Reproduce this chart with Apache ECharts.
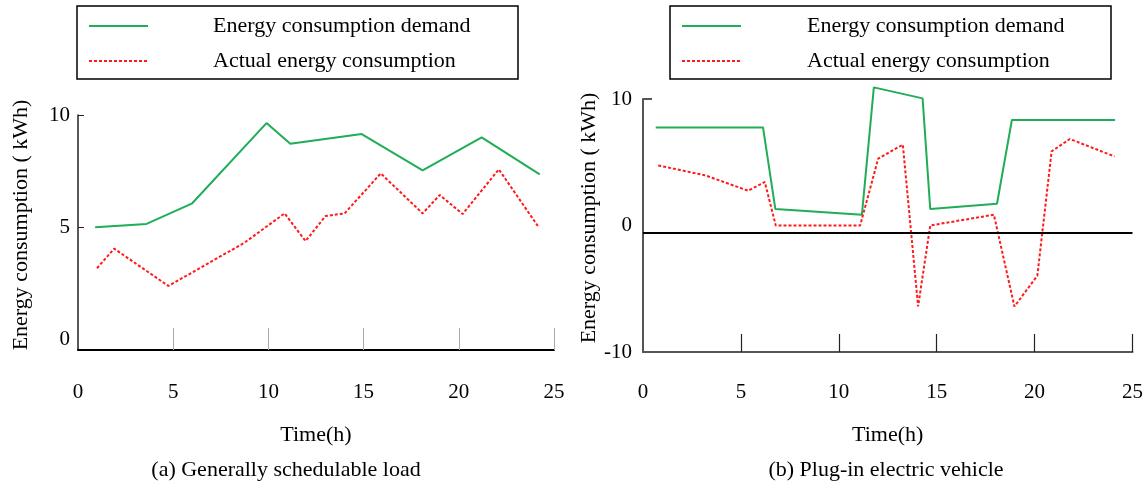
<!DOCTYPE html>
<html>
<head>
<meta charset="utf-8">
<title>Energy consumption</title>
<script src="https://cdn.jsdelivr.net/npm/echarts@6/dist/echarts.min.js"></script>
<style>
    html, body { margin: 0; padding: 0; background: #fff; }
    #chart { width: 1146px; height: 487px; }
</style>
</head>
<body>
<div id="chart"></div>
<script>
// (a) Generally schedulable load
var hoursDemandA = [0.9, 3.6, 6.0, 9.9, 11.15, 14.9, 18.1, 21.2, 24.25];
var demandA = [5.0, 5.15, 6.07, 9.64, 8.72, 9.15, 7.54, 9.0, 7.36];
var hoursActualA = [1.0, 1.9, 4.75, 8.75, 10.85, 11.95, 13.0, 14.0, 15.9, 18.1, 19.0, 20.2, 22.1, 24.2];
var actualA = [3.18, 4.05, 2.39, 4.32, 5.62, 4.39, 5.5, 5.62, 7.4, 5.62, 6.44, 5.59, 7.58, 5.0];

// (b) Plug-in electric vehicle
var hoursDemandB = [0.65, 6.13, 6.76, 11.18, 11.79, 14.28, 14.67, 18.08, 18.84, 24.11];
var demandB = [7.75, 7.75, 1.3, 0.85, 10.92, 10.05, 1.3, 1.72, 8.34, 8.34];
var hoursActualB = [0.78, 3.19, 5.37, 6.22, 6.78, 11.09, 12.01, 13.27, 14.05, 14.67, 17.92, 18.97, 20.14, 20.87, 21.8, 24.08];
var actualB = [4.75, 3.96, 2.75, 3.44, 0.0, 0.0, 5.28, 6.39, -6.4, 0.0, 0.85, -6.4, -3.97, 5.86, 6.84, 5.46];
var baselineB = -0.55;

var xTicks = [5, 10, 15, 20, 25];
var seriesNames = ['Energy consumption demand', 'Actual energy consumption'];
var panelTitles = ['(a) Generally schedulable load', '(b) Plug-in electric vehicle'];

var FONT = "'Liberation Serif', 'Times New Roman', serif";
var GREEN = '#1fae57';
var RED = '#ff1a1a';

function zip(xs, ys) {
    return xs.map(function (x, i) { return [x, ys[i]]; });
}

function makeLegend(left, width, padLeftText) {
    return {
        orient: 'vertical',
        left: left,
        top: 6,
        width: width,
        borderColor: '#000',
        borderWidth: 1.5,
        padding: [9, 10, 7, 11],
        itemWidth: 59,
        itemHeight: 14,
        itemGap: 13,
        data: seriesNames,
        itemStyle: { opacity: 0 },
        textStyle: {
            fontFamily: FONT,
            fontSize: 22,
            lineHeight: 22,
            color: '#000',
            padding: [0, 0, 0, padLeftText],
            width: width - 59 - padLeftText - 30
        }
    };
}

var chart = echarts.init(document.getElementById('chart'));

var titleStyle = { fontFamily: FONT, fontSize: 22, fontWeight: 'normal', color: '#000' };
var nameStyle = { fontFamily: FONT, fontSize: 22, color: '#000' };
// y-axis titles sit a little higher than the axis middle
var yNameStyle = { fontFamily: FONT, fontSize: 22, color: '#000', padding: [0, 0, 0, 15] };

var option = {
    backgroundColor: '#fff',
    animation: false,
    title: [
        { text: panelTitles[0], left: 281, top: 454, textAlign: 'center', textStyle: titleStyle },
        { text: panelTitles[1], left: 881, top: 454, textAlign: 'center', textStyle: titleStyle }
    ],
    legend: [
        makeLegend(77, 444, 60),
        makeLegend(670, 444, 61)
    ],
    grid: [
        { left: 78, top: 115, width: 476, height: 235 },
        { left: 643, top: 99, width: 497, height: 253 }
    ],
    xAxis: [
        {
            gridIndex: 0, type: 'value', min: 0, max: 25, interval: 5,
            name: 'Time(h)', nameLocation: 'middle', nameGap: 74, nameTextStyle: nameStyle,
            axisLine: { onZero: false, lineStyle: { color: '#000', width: 2 } },
            axisTick: { inside: true, length: 22, customValues: xTicks, lineStyle: { color: '#aaa', width: 1 } },
            axisLabel: { margin: 32, fontFamily: FONT, fontSize: 21, color: '#000' },
            splitLine: { show: false }
        },
        {
            gridIndex: 1, type: 'value', min: 0, max: 25, interval: 5,
            name: 'Time(h)', nameLocation: 'middle', nameGap: 72, nameTextStyle: nameStyle,
            axisLine: { onZero: false, lineStyle: { color: '#555', width: 2 } },
            axisTick: { inside: true, length: 18, customValues: xTicks, lineStyle: { color: '#222', width: 1.2 } },
            axisLabel: { margin: 30, fontFamily: FONT, fontSize: 21, color: '#000' },
            splitLine: { show: false }
        }
    ],
    yAxis: [
        {
            gridIndex: 0, type: 'value', min: -0.46, max: 10,
            name: 'Energy consumption ( kWh)', nameLocation: 'middle', nameGap: 46, nameTextStyle: yNameStyle,
            axisLine: { show: true, onZero: false, lineStyle: { color: '#222', width: 1.5 } },
            axisTick: { show: true, inside: true, length: 6, customValues: [5, 10], lineStyle: { color: '#222' } },
            axisLabel: { margin: 8, customValues: [0, 5, 10], fontFamily: FONT, fontSize: 21, color: '#000' },
            splitLine: { show: false }
        },
        {
            gridIndex: 1, type: 'value', min: -10, max: 10, interval: 10,
            name: 'Energy consumption ( kWh)', nameLocation: 'middle', nameGap: 42, nameTextStyle: yNameStyle,
            axisLine: { show: true, onZero: false, lineStyle: { color: '#555', width: 2 } },
            axisTick: { show: true, inside: true, length: 9, customValues: [10], lineStyle: { color: '#555', width: 2 } },
            axisLabel: { margin: 11, fontFamily: FONT, fontSize: 21, color: '#000' },
            splitLine: { show: false }
        }
    ],
    series: [
        {
            name: seriesNames[0], type: 'line', xAxisIndex: 0, yAxisIndex: 0,
            data: zip(hoursDemandA, demandA), symbol: 'none', clip: false,
            itemStyle: { color: GREEN }, lineStyle: { color: GREEN, width: 2 }
        },
        {
            name: seriesNames[1], type: 'line', xAxisIndex: 0, yAxisIndex: 0,
            data: zip(hoursActualA, actualA), symbol: 'none', clip: false,
            itemStyle: { color: RED }, lineStyle: { color: RED, width: 2, type: [3, 2] }
        },
        {
            name: seriesNames[0], type: 'line', xAxisIndex: 1, yAxisIndex: 1,
            data: zip(hoursDemandB, demandB), symbol: 'none', clip: false,
            itemStyle: { color: GREEN }, lineStyle: { color: GREEN, width: 2 },
            markLine: {
                silent: true, symbol: 'none', label: { show: false },
                lineStyle: { color: '#000', width: 2, type: 'solid' },
                data: [{ yAxis: baselineB }]
            }
        },
        {
            name: seriesNames[1], type: 'line', xAxisIndex: 1, yAxisIndex: 1,
            data: zip(hoursActualB, actualB), symbol: 'none', clip: false,
            itemStyle: { color: RED }, lineStyle: { color: RED, width: 2, type: [3, 2] }
        }
    ]
};

chart.setOption(option);
</script>
</body>
</html>
